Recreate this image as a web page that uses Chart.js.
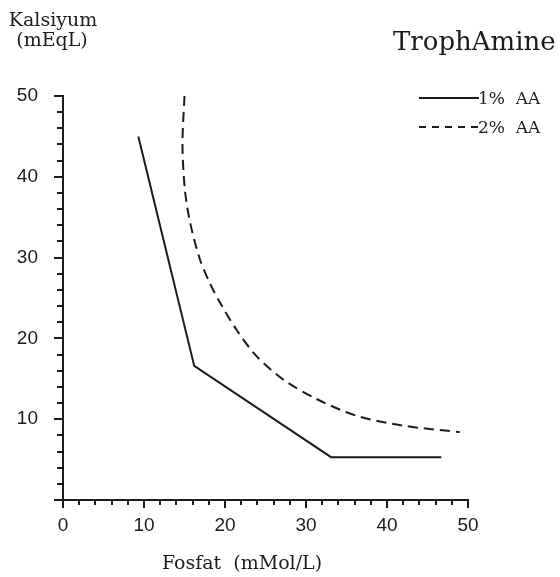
<!DOCTYPE html>
<html>
<head>
<meta charset="utf-8">
<script src="https://cdn.jsdelivr.net/npm/chart.js@4.4.1/dist/chart.umd.min.js"></script>
<style>
  html, body { margin: 0; padding: 0; background: #fff; }
  #wrap { width: 560px; height: 577px; }
</style>
</head>
<body>
<div id="wrap"><canvas id="chart"></canvas></div>
<script>
const chartTitle = "TrophAmine";
const yTitleLines = ["Kalsiyum", "(mEqL)"];
const xTitle = "Fosfat  (mMol/L)";

const seriesNames = ["1%  AA", "2%  AA"];

// 1% AA (solid)
const aa1X = [9.3, 16.2, 33.1, 46.7];
const aa1Y = [45, 16.6, 5.3, 5.3];

// 2% AA (dashed)
const aa2X = [15.0, 14.75, 15.05, 15.7, 16.9, 18.1, 19.4, 21.4, 23.9, 27.2, 31.3, 36.3, 42.0, 49.0];
const aa2Y = [50, 44, 38.4, 34.3, 29.8, 26.9, 24.4, 21.1, 17.8, 14.9, 12.5, 10.4, 9.2, 8.4];

const xTicks = [0, 10, 20, 30, 40, 50];
const yTicks = [0, 10, 20, 30, 40, 50];
const minorStep = 2;

const serif = "'DejaVu Serif', serif";
const sans = "'Liberation Sans', Arial, sans-serif";
const ink = "#1e1b1c";

function toPoints(xs, ys) {
  return xs.map((x, i) => ({ x: x, y: ys[i] }));
}

// minor ticks, texts and legend
const extras = {
  id: "extras",
  afterDraw(chart) {
    const ctx = chart.ctx;
    const xs = chart.scales.x;
    const ys = chart.scales.y;
    const area = chart.chartArea;
    ctx.save();
    ctx.strokeStyle = ink;
    ctx.lineWidth = 2;
    for (let v = 0; v <= 50; v += minorStep) {
      if (v % 10 === 0) continue;
      const px = Math.round(xs.getPixelForValue(v));
      ctx.beginPath();
      ctx.moveTo(px, area.bottom);
      ctx.lineTo(px, area.bottom + 5);
      ctx.stroke();
      const py = Math.round(ys.getPixelForValue(v));
      ctx.beginPath();
      ctx.moveTo(area.left, py);
      ctx.lineTo(area.left - 6, py);
      ctx.stroke();
    }

    ctx.fillStyle = ink;
    ctx.textAlign = "center";
    ctx.textBaseline = "alphabetic";
    ctx.font = "19px " + serif;
    ctx.fillText(yTitleLines[0], 53, 26);
    ctx.fillText(yTitleLines[1], 52, 46);

    ctx.textAlign = "left";
    ctx.font = "26px " + serif;
    ctx.fillText(chartTitle, 393, 50);

    ctx.textAlign = "center";
    ctx.font = "19px " + serif;
    ctx.fillText(xTitle, 242, 569);

    // legend
    const rows = [98, 127];
    ctx.font = "17px " + serif;
    ctx.textAlign = "left";
    chart.data.datasets.forEach((ds, i) => {
      ctx.beginPath();
      ctx.setLineDash(ds.borderDash ? [7, 6] : []);
      ctx.lineWidth = 2;
      ctx.moveTo(419, rows[i]);
      ctx.lineTo(479, rows[i]);
      ctx.stroke();
      ctx.setLineDash([]);
      ctx.fillText(ds.label, 478, rows[i] + 6);
    });
    ctx.restore();
  }
};

new Chart(document.getElementById("chart"), {
  type: "scatter",
  data: {
    datasets: [
      {
        label: seriesNames[0],
        data: toPoints(aa1X, aa1Y),
        showLine: true,
        borderColor: ink,
        borderWidth: 2,
        pointRadius: 0,
        tension: 0
      },
      {
        label: seriesNames[1],
        data: toPoints(aa2X, aa2Y),
        showLine: true,
        borderColor: ink,
        borderWidth: 2,
        borderDash: [10, 6],
        pointRadius: 0,
        tension: 0.3
      }
    ]
  },
  options: {
    responsive: true,
    maintainAspectRatio: false,
    animation: false,
    layout: { padding: { top: 96, right: 92, left: 0, bottom: 0 } },
    plugins: {
      legend: { display: false },
      tooltip: { enabled: false }
    },
    scales: {
      x: {
        type: "linear",
        min: 0,
        max: 50,
        afterFit: (s) => { s.height = 77; },
        afterBuildTicks: (s) => { s.ticks = xTicks.map((v) => ({ value: v })); },
        border: { display: true, color: ink, width: 2 },
        grid: { drawOnChartArea: false, drawTicks: true, tickLength: 8, color: ink, lineWidth: 2 },
        ticks: { color: ink, font: { family: sans, size: 19 }, padding: 6 }
      },
      y: {
        type: "linear",
        min: 0,
        max: 50,
        afterFit: (s) => { s.width = 63; },
        afterBuildTicks: (s) => { s.ticks = yTicks.map((v) => ({ value: v })); },
        border: { display: true, color: ink, width: 2 },
        grid: { drawOnChartArea: false, drawTicks: true, tickLength: 9, color: ink, lineWidth: 2 },
        ticks: {
          color: ink,
          font: { family: sans, size: 19 },
          padding: 16,
          callback: (v) => (v === 0 ? "" : v)
        }
      }
    }
  },
  plugins: [extras]
});
</script>
</body>
</html>
